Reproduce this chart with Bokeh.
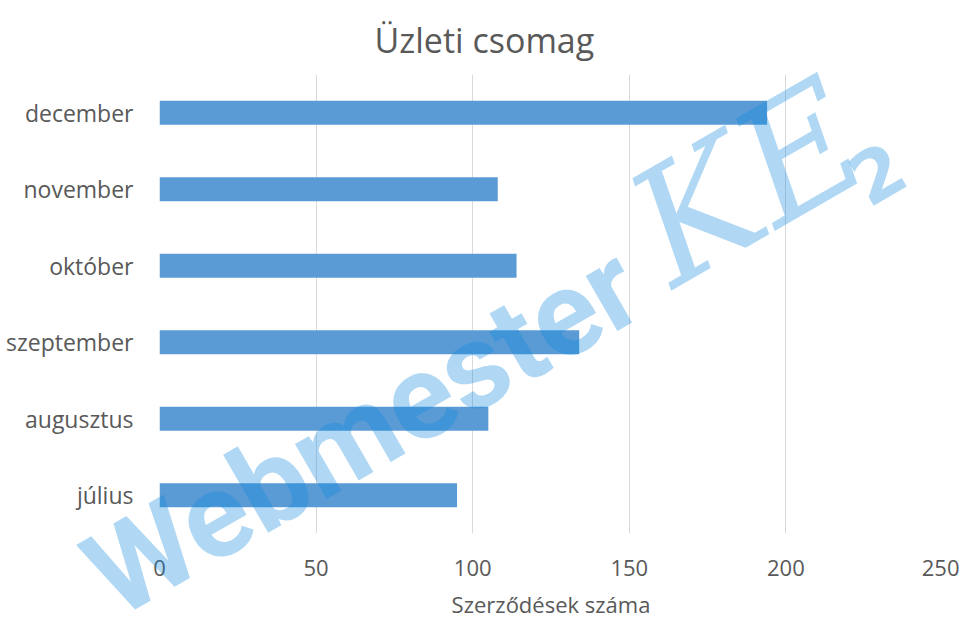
from bokeh.plotting import figure
from bokeh.models import ColumnDataSource, FactorRange, Range1d, FixedTicker, Label
from bokeh.embed import file_html
from bokeh.resources import INLINE

months = ["július", "augusztus", "szeptember", "október", "november", "december"]
contracts = [95, 105, 134, 114, 108, 194]
x_ticks = [0, 50, 100, 150, 200, 250]

title_text = "Üzleti csomag"
x_label = "Szerződések száma"
watermark_main = "Webmester"
watermark_script = "KE"
watermark_sub = "2"

FONT = "Open Sans"
TXT = "#595959"
W, H = 959, 621

src = ColumnDataSource(dict(month=months, value=contracts))

p = figure(width=W, height=H, output_backend="svg", toolbar_location=None,
           y_range=FactorRange(*months), x_range=Range1d(0, 250),
           title=title_text, min_border_left=159, min_border_right=17,
           min_border_top=74, min_border_bottom=88)

p.hbar(y="month", right="value", left=0, height=0.313, source=src,
       color="#5b9bd5", line_color=None)

p.title.text_font = FONT
p.title.text_font_size = "34px"
p.title.text_font_style = "normal"
p.title.text_color = TXT
p.title.align = "left"
p.title.offset = 215
p.title.standoff = 24

p.outline_line_color = None
p.ygrid.grid_line_color = None
p.xgrid.grid_line_color = "#d9d9d9"
p.xgrid.grid_line_width = 1
p.xaxis.ticker = FixedTicker(ticks=x_ticks)

for ax in (p.xaxis, p.yaxis):
    ax.axis_line_color = None
    ax.major_tick_line_color = None
    ax.minor_tick_line_color = None
    ax.major_label_text_font = FONT
    ax.major_label_text_color = TXT

p.xaxis.major_label_text_font_size = "22px"
p.xaxis.major_label_standoff = 20
p.xaxis.axis_label = x_label
p.xaxis.axis_label_text_font = FONT
p.xaxis.axis_label_text_font_size = "22px"
p.xaxis.axis_label_text_font_style = "normal"
p.xaxis.axis_label_text_color = TXT
p.xaxis.axis_label_standoff = 10

p.yaxis.major_label_text_font_size = "23px"
p.yaxis.major_label_standoff = 20

# transparent overlay figure for the watermark, laid exactly over the chart
w = figure(width=W, height=H, output_backend="svg", toolbar_location=None,
           x_range=Range1d(0, W), y_range=Range1d(0, H),
           x_axis_type=None, y_axis_type=None, min_border=0,
           styles={"position": "absolute", "top": "0px", "left": "0px", "z-index": "1"})
w.title.visible = False
w.outline_line_color = None
w.background_fill_alpha = 0
w.border_fill_alpha = 0
w.grid.visible = False

wm_color = "#0a86e0"
wm = dict(angle=30, angle_units="deg", text_color=wm_color, text_alpha=0.32,
          text_baseline="alphabetic")
w.add_layout(Label(x=96, y=37, text=watermark_main, text_font="Roboto",
                   text_font_style="bold", text_font_size="120px", **wm))
w.add_layout(Label(x=645, y=380, text=watermark_script, text_font="DejaVu Serif",
                   text_font_style="italic", text_font_size="160px", **wm))
w.add_layout(Label(x=855, y=436, text=watermark_sub, text_font="DejaVu Sans",
                   text_font_style="bold", text_font_size="72px", **wm))

open("out.html", "w").write(file_html([p, w], INLINE))
